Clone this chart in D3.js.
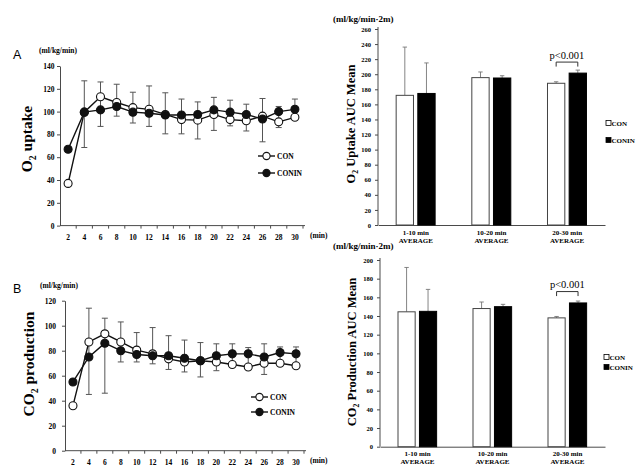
<!DOCTYPE html>
<html><head><meta charset="utf-8">
<script src="https://cdn.jsdelivr.net/npm/d3@7"></script>
<style>
body{margin:0;background:#fff}
svg{display:block}
text{font-family:"Liberation Serif","Times New Roman",serif;font-weight:bold;fill:#000}
</style>
</head><body>
<svg id="c" width="641" height="471"></svg>
<script>
// ---------- data ----------
const times = [2,4,6,8,10,12,14,16,18,20,22,24,26,28,30];
const seriesNames = ["CON","CONIN"];

// Panel A: O2 uptake (ml/kg/min)
const o2Con   = [37,99.5,113,108,103.5,102,97.5,93,92.5,97.5,93,92,96,91,95];
const o2Conin = [67,99.5,101.5,104.5,99.5,98.5,97,97,97.5,101.5,99.5,97.5,93.5,100,102];
const o2ErrTop = [null,127,126,124,117,122.5,116.5,111,108.5,112.5,110,106.5,111.5,104.5,111];
const o2ErrBot = [null,68.5,87,96,90,87,80.5,80.5,76,83.5,87.5,83,73.5,86,null];
const o2Ticks = [0,20,40,60,80,100,120,140];

// Panel B: CO2 production (ml/kg/min)
const co2Con   = [36,87,93.5,87,80.5,77.5,73.5,71,72,71,69,67,70,70,68];
const co2Conin = [55,75,86,80,77,76,76,74,72,76,77.5,77.5,75,78.5,77.5];
const co2ErrTop = [null,114,106,103,94.5,98.5,92,88.5,86.5,85.5,85.5,82.5,85.5,83,83];
const co2ErrBot = [null,45,46,71,71,69.5,65,63,59,64,null,null,61,null,null];
const co2Ticks = [0,20,40,60,80,100,120];

// AUC bar charts
const groups = ["1-10 min","10-20 min","20-30 min"];
const groupSub = "AVERAGE";
const o2AucCon     = [172,195.5,188];
const o2AucConin   = [174.5,195,201.5];
const o2AucConSD   = [64,7.5,2];
const o2AucConinSD = [40.5,3,4];
const o2AucTicks = d3.range(0,261,20);

const co2AucCon     = [144.5,148,138];
const co2AucConin   = [145,150,154];
const co2AucConSD   = [47.5,7,1.5];
const co2AucConinSD = [23.5,2.5,2];
const co2AucTicks = d3.range(0,201,20);

const pLabel = "p<0.001";
const pGroup = "20-30 min";

// ---------- drawing ----------
const svg = d3.select("#c");
const AX = "#4a4a4a";

function styleAxis(g, fs){
  g.select(".domain").attr("stroke",AX).attr("stroke-width",1);
  g.selectAll(".tick line").attr("stroke",AX);
  g.selectAll(".tick text").style("font-size",fs+"px")
    .style("font-family",'"Liberation Serif","Times New Roman",serif').style("font-weight","bold");
}

function rotTitle(x, y, parts, fs){
  const t = svg.append("text").attr("transform",`translate(${x},${y}) rotate(-90)`)
    .attr("text-anchor","middle").attr("font-size",fs);
  parts.forEach(p=>{
    const ts = t.append("tspan").text(p.t);
    if(p.sub){ ts.attr("font-size",fs*0.62).attr("dy",fs*0.25); }
    else if(p.after){ ts.attr("dy",-fs*0.25); }
  });
  return t;
}

function lineChart(o){
  const g = svg.append("g");
  const x = d3.scaleBand().domain(o.times).range([o.x0,o.x1]);
  const y = d3.scaleLinear().domain([0,o.ymax]).range([o.yb,o.yt]);
  const cx = d => x(d) + x.bandwidth()/2;

  const ya = g.append("g").attr("transform",`translate(${o.x0},0)`)
    .call(d3.axisLeft(y).tickValues(o.yticks).tickSize(3).tickSizeOuter(0).tickPadding(o.ypad));
  styleAxis(ya, 7.5);
  const xa = g.append("g").attr("transform",`translate(0,${o.yb})`)
    .call(d3.axisBottom(x).tickSize(0).tickSizeOuter(0).tickPadding(9));
  styleAxis(xa, 7.5);
  xa.select(".domain").attr("d",`M${o.x0},0H${o.x1+2}`);
  // category boundary ticks
  g.selectAll(".bt").data(o.times).join("line")
    .attr("x1",(d,i)=>o.x0 + (i+1)*x.step()).attr("x2",(d,i)=>o.x0 + (i+1)*x.step())
    .attr("y1",o.yb).attr("y2",o.yb+3).attr("stroke",AX);

  // error bars
  const eb = g.append("g").attr("stroke","#555").attr("stroke-width",1);
  o.times.forEach((t,i)=>{
    const hiV = o.errTop[i], loV = o.errBot[i];
    if(hiV==null && loV==null) return;
    const hi = hiV!=null ? hiV : Math.max(o.con[i],o.conin[i]);
    const lo = loV!=null ? loV : Math.min(o.con[i],o.conin[i]);
    eb.append("line").attr("x1",cx(t)).attr("x2",cx(t)).attr("y1",y(hi)).attr("y2",y(lo));
    if(hiV!=null) eb.append("line").attr("x1",cx(t)-3).attr("x2",cx(t)+3).attr("y1",y(hiV)).attr("y2",y(hiV));
    if(loV!=null) eb.append("line").attr("x1",cx(t)-3).attr("x2",cx(t)+3).attr("y1",y(loV)).attr("y2",y(loV));
  });

  const line = d3.line().x((d,i)=>cx(o.times[i])).y(d=>y(d));
  g.append("path").datum(o.con).attr("d",line).attr("fill","none").attr("stroke","#111").attr("stroke-width",1.4);
  g.append("path").datum(o.conin).attr("d",line).attr("fill","none").attr("stroke","#111").attr("stroke-width",1.4);
  g.selectAll(".mc").data(o.con).join("circle").attr("cx",(d,i)=>cx(o.times[i])).attr("cy",d=>y(d))
    .attr("r",4).attr("fill","#fff").attr("stroke","#111").attr("stroke-width",1.1);
  g.selectAll(".mi").data(o.conin).join("circle").attr("cx",(d,i)=>cx(o.times[i])).attr("cy",d=>y(d))
    .attr("r",4).attr("fill","#111").attr("stroke","#111").attr("stroke-width",1.1);

  // legend
  seriesNames.forEach((s,k)=>{
    const ly = o.legY[k];
    g.append("line").attr("x1",o.legX).attr("x2",o.legX+17).attr("y1",ly).attr("y2",ly).attr("stroke","#111").attr("stroke-width",1.4);
    g.append("circle").attr("cx",o.legX+8.5).attr("cy",ly).attr("r",3.6)
      .attr("fill",k===0?"#fff":"#111").attr("stroke","#111").attr("stroke-width",1.1);
    g.append("text").attr("x",o.legX+19).attr("y",ly+2.6).attr("font-size",7.5).text(s);
  });

  // labels
  svg.append("text").attr("x",o.minX).attr("y",o.yb+12.5).attr("font-size",7.5).text("(min)");
  svg.append("text").attr("x",o.unitX).attr("y",o.unitY).attr("font-size",7.5).text("(ml/kg/min)");
  svg.append("text").attr("x",o.letterX).attr("y",o.letterY).style("font-size","12.5px")
    .style("font-family",'"Liberation Sans",Arial,sans-serif').style("font-weight","normal").text(o.letter);
  rotTitle(o.titleX,o.titleY,o.title,o.titleFs);
}

function barChart(o){
  const g = svg.append("g");
  const x0 = d3.scaleBand().domain(groups).range([o.x0,o.x1]);
  const x1 = d3.scaleBand().domain(seriesNames).range([x0.bandwidth()*0.24, x0.bandwidth()*0.755]).paddingInner(0.2);
  const y = d3.scaleLinear().domain([0,o.ymax]).range([o.yb,o.yt]);

  const ya = g.append("g").attr("transform",`translate(${o.x0},0)`)
    .call(d3.axisLeft(y).tickValues(o.yticks).tickSize(3).tickSizeOuter(0).tickPadding(4));
  styleAxis(ya, 6.5);
  ya.select(".domain").attr("d",`M0,${o.yb}V${o.yt-2}`);
  const xa = g.append("g").attr("transform",`translate(0,${o.yb})`)
    .call(d3.axisBottom(x0).tickSize(0).tickSizeOuter(0).tickFormat(""));
  styleAxis(xa, 7);
  groups.forEach(gr=>{
    const t = g.append("text").attr("x",x0(gr)+x0.bandwidth()/2).attr("text-anchor","middle").attr("font-size",7);
    t.append("tspan").attr("x",x0(gr)+x0.bandwidth()/2).attr("y",o.yb+9.5).text(gr);
    t.append("tspan").attr("x",x0(gr)+x0.bandwidth()/2).attr("y",o.yb+17.5).text(groupSub);
  });

  const rows = groups.map((gr,i)=>[
    {g:gr,s:"CON",v:o.con[i],sd:o.conSD[i]},
    {g:gr,s:"CONIN",v:o.conin[i],sd:o.coninSD[i]}]).flat();
  const bx = d => x0(d.g)+x1(d.s);
  // error bars (upper only)
  g.selectAll(".e").data(rows).join("line")
    .attr("x1",d=>bx(d)+x1.bandwidth()/2).attr("x2",d=>bx(d)+x1.bandwidth()/2)
    .attr("y1",d=>y(d.v)).attr("y2",d=>y(d.v+d.sd)).attr("stroke","#777").attr("stroke-width",0.9);
  g.selectAll(".ec").data(rows).join("line")
    .attr("x1",d=>bx(d)+x1.bandwidth()/2-2.2).attr("x2",d=>bx(d)+x1.bandwidth()/2+2.2)
    .attr("y1",d=>y(d.v+d.sd)).attr("y2",d=>y(d.v+d.sd)).attr("stroke","#777").attr("stroke-width",0.9);
  g.selectAll(".b").data(rows).join("rect")
    .attr("x",bx).attr("width",x1.bandwidth())
    .attr("y",d=>y(d.v)).attr("height",d=>o.yb-y(d.v))
    .attr("fill",d=>d.s==="CON"?"#fff":"#000").attr("stroke",d=>d.s==="CON"?"#444":"#000").attr("stroke-width",1);

  // significance bracket
  const pi = groups.indexOf(pGroup);
  const top = Math.max(o.con[pi]+o.conSD[pi], o.conin[pi]+o.coninSD[pi]);
  const bxl = x0(pGroup)+x1("CON")+x1.bandwidth()/2, bxr = x0(pGroup)+x1("CONIN")+x1.bandwidth()/2;
  const yl = y(top)-o.brOff, yt = yl-4.5;
  g.append("path").attr("d",`M${bxl},${yl}V${yt}H${bxr}V${yl}`).attr("fill","none").attr("stroke","#333").attr("stroke-width",1);
  g.append("text").attr("x",(bxl+bxr)/2).attr("y",yt-3.5).attr("text-anchor","middle")
    .style("font-size","10.5px").style("font-weight","normal").text(pLabel);

  // legend
  seriesNames.forEach((s,k)=>{
    const ly = o.legY[k];
    g.append("rect").attr("x",o.legX).attr("y",ly-2.5).attr("width",5).attr("height",5)
      .attr("fill",k===0?"#fff":"#000").attr("stroke","#000").attr("stroke-width",0.8);
    g.append("text").attr("x",o.legX+5.5).attr("y",ly+2.5).attr("font-size",7).text(s);
  });

  svg.append("text").attr("x",o.unitX).attr("y",o.unitY).attr("font-size",9).text("(ml/kg/min\u00b72m)");
  rotTitle(o.titleX,o.titleY,o.title,o.titleFs);
}

lineChart({times, con:o2Con, conin:o2Conin, errTop:o2ErrTop, errBot:o2ErrBot,
  x0:60, x1:303, yb:225.6, yt:66, ymax:140, yticks:o2Ticks, ypad:2.5,
  legX:258, legY:[156,173], minX:310, unitX:39, unitY:53, letter:"A", letterX:13, letterY:59,
  titleX:32, titleY:139, titleFs:15.5,
  title:[{t:"O"},{t:"2",sub:true},{t:" uptake",after:true}]});

lineChart({times, con:co2Con, conin:co2Conin, errTop:co2ErrTop, errBot:co2ErrBot,
  x0:65, x1:304, yb:450.7, yt:300.7, ymax:120, yticks:co2Ticks, ypad:6,
  legX:251, legY:[397,412], minX:310, unitX:40, unitY:288, letter:"B", letterX:13, letterY:293,
  titleX:34, titleY:364, titleFs:15.5,
  title:[{t:"CO"},{t:"2",sub:true},{t:" production",after:true}]});

barChart({con:o2AucCon, conin:o2AucConin, conSD:o2AucConSD, coninSD:o2AucConinSD,
  x0:378, x1:605, yb:225, yt:29, ymax:260, yticks:o2AucTicks, brOff:3.5,
  legX:606, legY:[123,140], unitX:333, unitY:22,
  titleX:355, titleY:124, titleFs:12.5,
  title:[{t:"O"},{t:"2",sub:true},{t:" Uptake AUC Mean",after:true}]});

barChart({con:co2AucCon, conin:co2AucConin, conSD:co2AucConSD, coninSD:co2AucConinSD,
  x0:380, x1:605, yb:446.7, yt:260, ymax:200, yticks:co2AucTicks, brOff:5,
  legX:604, legY:[357,367], unitX:333, unitY:249,
  titleX:356, titleY:352, titleFs:12.5,
  title:[{t:"CO"},{t:"2",sub:true},{t:" Production AUC Mean",after:true}]});
</script>
</body></html>
